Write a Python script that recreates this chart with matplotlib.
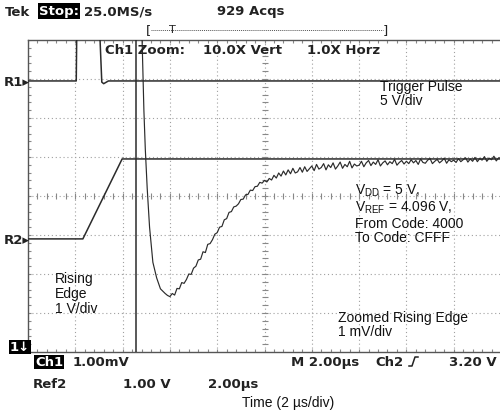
import matplotlib.pyplot as plt
from matplotlib.lines import Line2D
import numpy as np

# 値はすべて「目盛り(div)」単位: 横 0-10 div, 縦 0-8 div
# トリガーパルス (R1)
trig_t = [0.0, 1.02, 1.03, 1.52, 1.56, 1.60, 1.70, 10.0]
trig_v = [6.95, 6.95, 8.10, 8.10, 6.92, 6.88, 6.95, 6.95]

# 立ち上がりエッジ (Ref2)
edge_t = [0.0, 1.16, 1.99, 10.0]
edge_v = [2.90, 2.90, 4.95, 4.95]

# カーソル位置
cursor_t = 2.28

# 拡大した立ち上がりエッジ (Ch1, 1 mV/div)
zoom_t = [2.41, 2.45, 2.48, 2.52, 2.57, 2.64, 2.72, 2.80, 2.90, 2.95,
          3.00, 3.05, 3.10, 3.15, 3.20, 3.25, 3.30, 3.35, 3.40, 3.45,
          3.50, 3.55, 3.60, 3.65, 3.70, 3.75, 3.80, 3.85, 3.90, 3.95,
          4.00, 4.05, 4.10, 4.15, 4.20, 4.25, 4.30, 4.35, 4.40, 4.45,
          4.50, 4.55, 4.60, 4.65, 4.70, 4.75, 4.80, 4.85, 4.90, 4.95,
          5.00, 5.05, 5.10, 5.15, 5.20, 5.25, 5.30, 5.35, 5.40, 5.45,
          5.50, 5.55, 5.60, 5.65, 5.70, 5.75, 5.80, 5.85, 5.90, 5.95,
          6.00, 6.05, 6.10, 6.15, 6.20, 6.25, 6.30, 6.35, 6.40, 6.45,
          6.50, 6.55, 6.60, 6.65, 6.70, 6.75, 6.80, 6.85, 6.90, 6.95,
          7.00, 7.05, 7.10, 7.15, 7.20, 7.25, 7.30, 7.35, 7.40, 7.45,
          7.50, 7.55, 7.60, 7.65, 7.70, 7.75, 7.80, 7.85, 7.90, 7.95,
          8.00, 8.05, 8.10, 8.15, 8.20, 8.25, 8.30, 8.35, 8.40, 8.45,
          8.50, 8.55, 8.60, 8.65, 8.70, 8.75, 8.80, 8.85, 8.90, 8.95,
          9.00, 9.05, 9.10, 9.15, 9.20, 9.25, 9.30, 9.35, 9.40, 9.45,
          9.50, 9.55, 9.60, 9.65, 9.70, 9.75, 9.80, 9.85, 9.90, 9.95,
          10.00]
zoom_v = [8.10, 6.20, 5.20, 4.20, 3.20, 2.30, 1.90, 1.62, 1.50, 1.45,
          1.42, 1.50, 1.46, 1.63, 1.62, 1.78, 1.76, 1.86, 2.00, 1.99,
          2.15, 2.20, 2.36, 2.38, 2.57, 2.55, 2.76, 2.78, 2.88, 3.02,
          3.06, 3.20, 3.22, 3.39, 3.42, 3.58, 3.60, 3.72, 3.74, 3.80,
          3.91, 3.92, 4.03, 4.04, 4.15, 4.14, 4.24, 4.25, 4.35, 4.33,
          4.40, 4.36, 4.45, 4.41, 4.53, 4.46, 4.59, 4.51, 4.64, 4.54,
          4.67, 4.57, 4.71, 4.59, 4.62, 4.73, 4.61, 4.75, 4.63, 4.70,
          4.77, 4.65, 4.81, 4.69, 4.73, 4.83, 4.67, 4.80, 4.73, 4.85,
          4.69, 4.77, 4.87, 4.71, 4.81, 4.75, 4.89, 4.72, 4.82, 4.77,
          4.79, 4.89, 4.75, 4.85, 4.91, 4.78, 4.87, 4.81, 4.93, 4.77,
          4.85, 4.90, 4.80, 4.88, 4.83, 4.94, 4.79, 4.86, 4.91, 4.82,
          4.89, 4.83, 4.93, 4.85, 4.91, 4.81, 4.95, 4.86, 4.84, 4.92,
          4.96, 4.83, 4.89, 4.94, 4.85, 4.90, 4.97, 4.84, 4.93, 4.88,
          4.92, 4.86, 4.96, 4.88, 4.93, 4.98, 4.87, 4.95, 4.89, 4.99,
          4.88, 4.96, 4.92, 5.01, 4.89, 4.97, 4.93, 5.02, 4.90, 4.98,
          4.96]

W, H = 500, 414
fig = plt.figure(figsize=(W / 100, H / 100), dpi=100)
fig.patch.set_facecolor('white')


def px(x, y):
    # ピクセル座標 -> figure 座標
    return x / W, 1 - y / H


ax = fig.add_axes([28 / W, (H - 353) / H, 473 / W, 312 / H])
ax.set_xlim(0, 10)
ax.set_ylim(0, 8)
ax.set_xticks([])
ax.set_yticks([])
ax.spines['right'].set_visible(False)
for s in ['left', 'top', 'bottom']:
    ax.spines[s].set_color('#555555')
    ax.spines[s].set_linewidth(1.0)

# グリッド
grid_kw = dict(color='#a0a0a0', lw=0.8, ls=(0, (1, 2.5)), zorder=1)
for gx in range(1, 10):
    ax.axvline(gx, **grid_kw)
for gy in range(1, 8):
    ax.axhline(gy, **grid_kw)

# 中心線と縁の小目盛り
minor_x = np.arange(0, 10.01, 0.2)
minor_y = np.arange(0, 8.01, 0.2)
tick_kw = dict(ls='none', color='#888888', mew=0.8, zorder=1)
ax.plot(minor_x, np.full_like(minor_x, 4.0), marker='|', ms=4, **tick_kw)
ax.plot(np.full_like(minor_y, 5.0), minor_y, marker='_', ms=4, **tick_kw)
ax.plot(minor_x, np.full_like(minor_x, 8.0), marker='|', ms=5, **tick_kw)
ax.plot(minor_x, np.full_like(minor_x, 0.0), marker='|', ms=5, **tick_kw)
ax.plot(np.full_like(minor_y, 0.0), minor_y, marker='_', ms=5, **tick_kw)

trace_kw = dict(color='#2b2b2b', lw=1.1, zorder=3)
ax.plot(trig_t, trig_v, **trace_kw)
ax.plot(edge_t, edge_v, **trace_kw)
ax.axvline(cursor_t, color='#2b2b2b', lw=1.1, zorder=3)
ax.plot(zoom_t, zoom_v, color='#2b2b2b', lw=0.85, zorder=3)

# オシロスコープ表示の文字
mono = dict(family='DejaVu Sans', fontweight='bold', fontsize=9.5,
            color='#222222', va='center', ha='left')
fig.text(*px(5, 12), 'Tek', **mono)
fig.text(*px(39, 12), 'Stop:', **{**mono, 'color': 'white'},
         bbox=dict(facecolor='black', edgecolor='none', pad=0.8))
fig.text(*px(84, 12), '25.0MS/s', **mono)
fig.text(*px(217, 12), '929 Acqs', **mono)

fig.text(*px(146, 31), '[', **{**mono, 'fontweight': 'normal'})
fig.text(*px(383, 31), ']', **{**mono, 'fontweight': 'normal'})
fig.text(*px(169, 30), 'T', **{**mono, 'fontweight': 'normal', 'fontsize': 8})
fig.add_artist(Line2D([151 / W, 383 / W], [1 - 31 / H, 1 - 31 / H],
                      color='#555555', lw=0.7, ls=(0, (1, 1))))

fig.text(*px(105, 51), 'Ch1 Zoom:', **mono)
fig.text(*px(203, 51), '10.0X Vert', **mono)
fig.text(*px(307, 51), '1.0X Horz', **mono)

fig.text(*px(4, 83), 'R1\u25B8', **mono)
fig.text(*px(4, 241), 'R2\u25B8', **mono)
fig.text(*px(10, 348), '1\u2193', **{**mono, 'color': 'white'},
         bbox=dict(facecolor='black', edgecolor='none', pad=0.6))

fig.text(*px(35, 363), 'Ch1', **{**mono, 'color': 'white'},
         bbox=dict(facecolor='black', edgecolor='none', pad=0.6))
fig.text(*px(73, 363), '1.00mV', **mono)
fig.text(*px(291, 363), 'M 2.00\u00b5s', **mono)
fig.text(*px(375, 363), 'Ch2', **mono)
# トリガーの立ち上がり記号
fig.add_artist(Line2D([409 / W, 412 / W, 415 / W, 418 / W],
                      [1 - 367 / H, 1 - 367 / H, 1 - 358 / H, 1 - 358 / H],
                      color='#222222', lw=1.1))
fig.text(*px(449, 363), '3.20 V', **mono)

fig.text(*px(33, 385), 'Ref2', **mono)
fig.text(*px(123, 385), '1.00 V', **mono)
fig.text(*px(208, 385), '2.00\u00b5s', **mono)

# 注釈 (Arial 相当)
ann = dict(family='Liberation Sans', fontsize=10, color='#111111',
           ha='left', va='center', linespacing=1.05)
fig.text(*px(380, 94), 'Trigger Pulse\n5 V/div', **ann)
fig.text(*px(355, 214),
         '$\\mathregular{V_{DD}}$ = 5 V,\n$\\mathregular{V_{REF}}$ = 4.096 V,\n'
         'From Code: 4000\nTo Code: CFFF', **ann)
fig.text(*px(55, 294), 'Rising\nEdge\n1 V/div', **ann)
fig.text(*px(338, 325), 'Zoomed Rising Edge\n1 mV/div', **ann)
fig.text(*px(288, 403), 'Time (2 \u00b5s/div)', **{**ann, 'ha': 'center'})

fig.savefig('out.png', dpi=100)
